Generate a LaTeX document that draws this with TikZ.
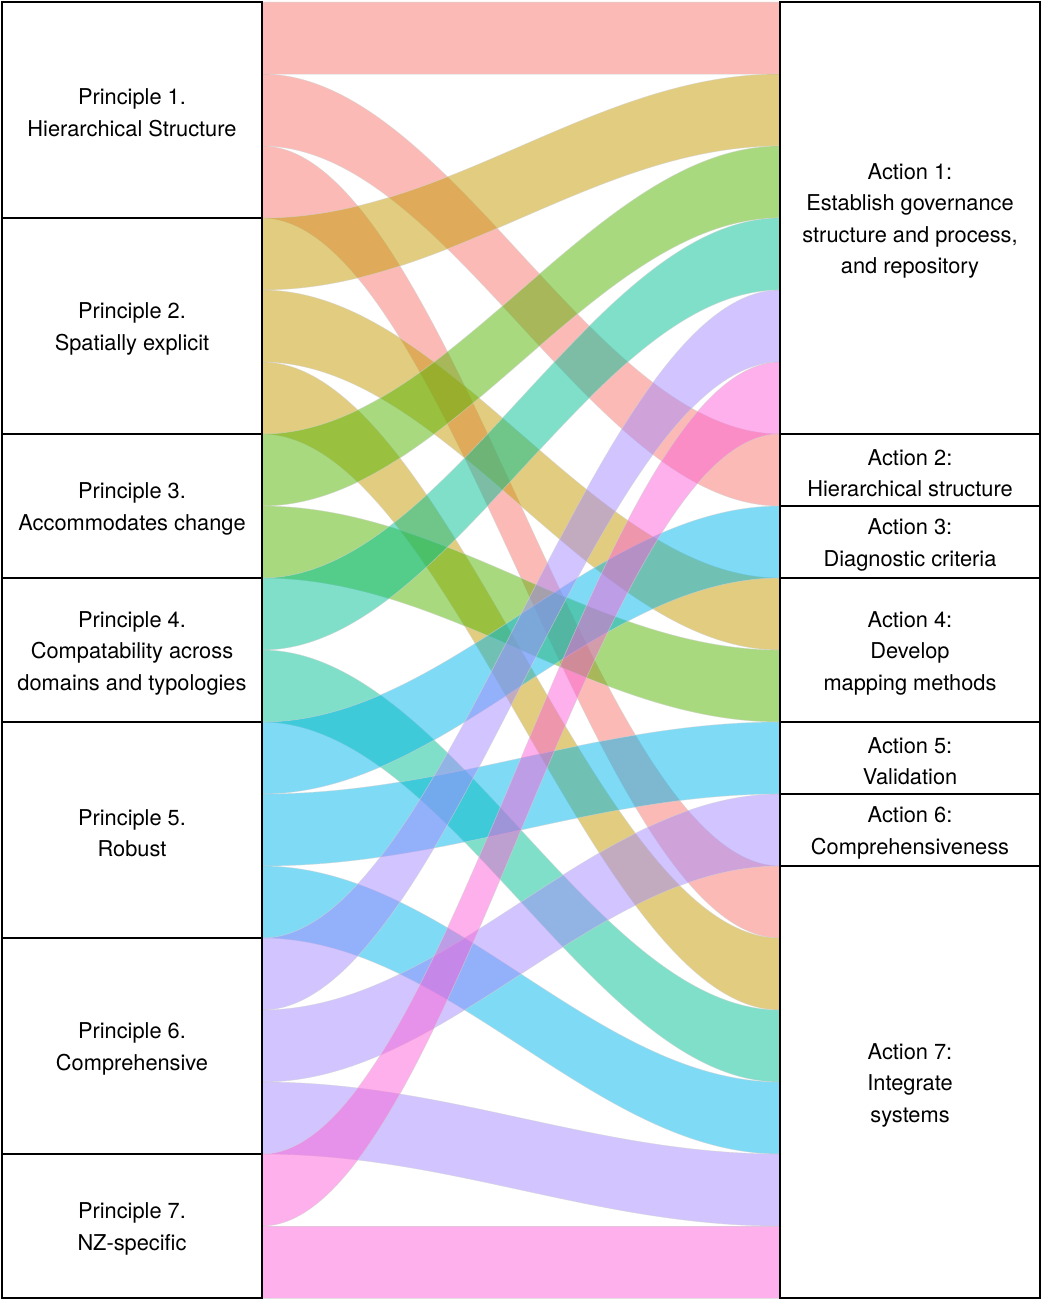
\documentclass[tikz,border=0pt]{standalone}
\usepackage{fontspec}
\setmainfont{TeX Gyre Heros}
\usetikzlibrary{calc,backgrounds}

% flow colours (ggplot hue palette)
\definecolor{cA}{HTML}{F8766D}
\definecolor{cB}{HTML}{C49A00}
\definecolor{cC}{HTML}{53B400}
\definecolor{cD}{HTML}{00C094}
\definecolor{cE}{HTML}{00B6EB}
\definecolor{cF}{HTML}{A58AFF}
\definecolor{cG}{HTML}{FB61D7}

% #1 colour, #2 left stratum, #3 slot in it, #4 right stratum, #5 slot in it
\newcommand\flowband[5]{%
  \coordinate (#2-#3t) at ($(#2.north east)+(0,#3*72)$);
  \coordinate (#2-#3b) at ($(#2-#3t)+(0,72)$);
  \coordinate (#4-#5t) at ($(#4.north west)+(0,#5*72)$);
  \coordinate (#4-#5b) at ($(#4-#5t)+(0,72)$);
  \path[band=#1] (#2-#3t) .. controls +(186,0) and +(-186,0) .. (#4-#5t)
    -- (#4-#5b) .. controls +(-186,0) and +(186,0) .. (#2-#3b) -- cycle;}

\begin{document}
\begin{tikzpicture}[x=1pt,y=-1pt,
  stratum/.style={draw=black, line width=1.3pt, minimum width=260pt,
    inner sep=0pt, outer sep=0pt},
  caption/.style={align=center, inner sep=0pt, yshift=-3pt,
    font=\fontsize{21.8}{31.5}\selectfont},
  band/.style={fill=#1, fill opacity=0.5, draw=gray!35, draw opacity=0.6,
    line width=0.6pt}]
\useasboundingbox (0,0) rectangle (1042,1300);

% principles
\node[stratum, minimum height=216pt, label={[caption, name=p1t]center:Principle 1.\\Hierarchical Structure}] (p1) at (132,110) {};
\node[stratum, minimum height=216pt, label={[caption, name=p2t]center:Principle 2.\\Spatially explicit}] (p2) at (132,326) {};
\node[stratum, minimum height=144pt, label={[caption, name=p3t]center:Principle 3.\\Accommodates change}] (p3) at (132,506) {};
\node[stratum, minimum height=144pt, label={[caption, name=p4t]center:Principle 4.\\Compatability across\\domains and typologies}] (p4) at (132,650) {};
\node[stratum, minimum height=216pt, label={[caption, name=p5t]center:Principle 5.\\Robust}] (p5) at (132,830) {};
\node[stratum, minimum height=216pt, label={[caption, name=p6t]center:Principle 6.\\Comprehensive}] (p6) at (132,1046) {};
\node[stratum, minimum height=144pt, label={[caption, name=p7t]center:Principle 7.\\NZ-specific}] (p7) at (132,1226) {};

% actions
\node[stratum, minimum height=432pt, label={[caption, name=a1t]center:Action 1:\\Establish governance\\structure and process,\\and repository}] (a1) at (910,218) {};
\node[stratum, minimum height=72pt, label={[caption, name=a2t]center:Action 2:\\Hierarchical structure}] (a2) at (910,470) {};
\node[stratum, minimum height=72pt, label={[caption, name=a3t]center:Action 3:\\Diagnostic criteria}] (a3) at (910,542) {};
\node[stratum, minimum height=144pt, label={[caption, name=a4t]center:Action 4:\\Develop\\mapping methods}] (a4) at (910,650) {};
\node[stratum, minimum height=72pt, label={[caption, name=a5t]center:Action 5:\\Validation}] (a5) at (910,758) {};
\node[stratum, minimum height=72pt, label={[caption, name=a6t]center:Action 6:\\Comprehensiveness}] (a6) at (910,830) {};
\node[stratum, minimum height=432pt, label={[caption, name=a7t]center:Action 7:\\Integrate\\systems}] (a7) at (910,1082) {};

% alluvial flows
\begin{scope}[on background layer]
\flowband{cA}{p1}{0}{a1}{0}
\flowband{cA}{p1}{1}{a2}{0}
\flowband{cA}{p1}{2}{a7}{0}
\flowband{cB}{p2}{0}{a1}{1}
\flowband{cB}{p2}{1}{a4}{0}
\flowband{cB}{p2}{2}{a7}{1}
\flowband{cC}{p3}{0}{a1}{2}
\flowband{cC}{p3}{1}{a4}{1}
\flowband{cD}{p4}{0}{a1}{3}
\flowband{cD}{p4}{1}{a7}{2}
\flowband{cE}{p5}{0}{a3}{0}
\flowband{cE}{p5}{1}{a5}{0}
\flowband{cE}{p5}{2}{a7}{3}
\flowband{cF}{p6}{0}{a1}{4}
\flowband{cF}{p6}{1}{a6}{0}
\flowband{cF}{p6}{2}{a7}{4}
\flowband{cG}{p7}{0}{a1}{5}
\flowband{cG}{p7}{1}{a7}{5}
\end{scope}
\end{tikzpicture}
\end{document}
